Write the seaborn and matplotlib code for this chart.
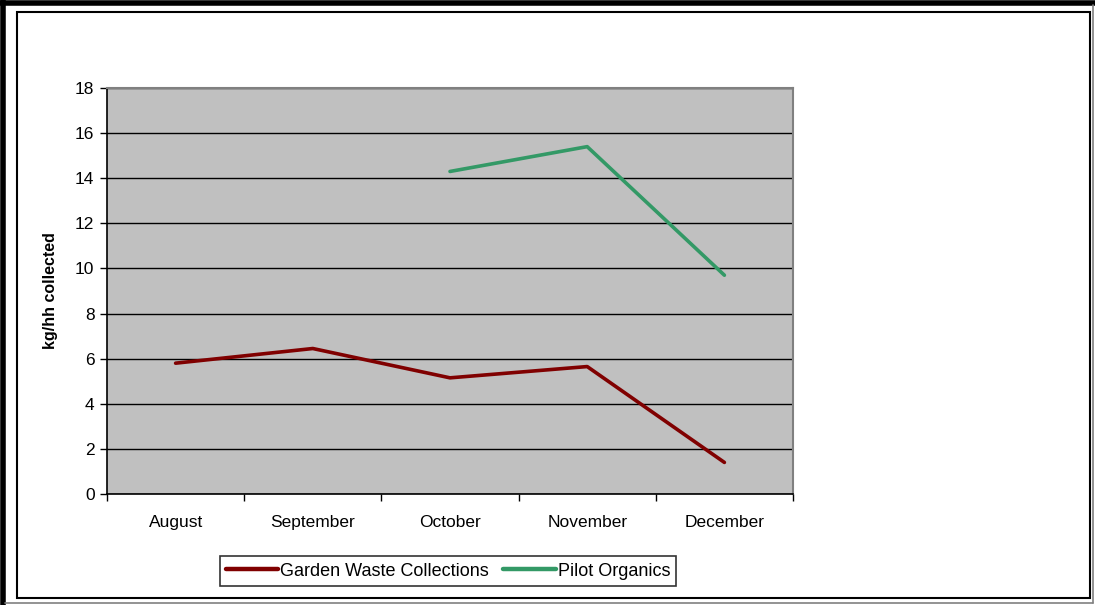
import numpy as np
import pandas as pd
import matplotlib
matplotlib.use("Agg")
import matplotlib.pyplot as plt
import seaborn as sns
from matplotlib.lines import Line2D
from matplotlib.patches import Rectangle

months = ["August", "September", "October", "November", "December"]
garden = [5.8, 6.45, 5.15, 5.65, 1.4]
pilot = [np.nan, np.nan, 14.3, 15.4, 9.7]
series_names = ["Garden Waste Collections", "Pilot Organics"]
colors = ["#800000", "#339966"]

sns.set_theme(style="white")
plt.rcParams['font.family'] = ['Liberation Sans', 'DejaVu Sans']
plt.rcParams['text.color'] = 'black'
plt.rcParams['xtick.color'] = 'black'
plt.rcParams['ytick.color'] = 'black'
plt.rcParams['axes.labelcolor'] = 'black'

df = pd.DataFrame({
    "x": list(range(len(months))) * 2,
    "value": garden + pilot,
    "series": [series_names[0]] * len(months) + [series_names[1]] * len(months),
})

W, H = 1095, 605
fig = plt.figure(figsize=(W / 100, H / 100), dpi=100)
ax = fig.add_axes([107 / W, 1 - 494 / H, (793 - 107) / W, (494 - 88) / H])
ax.set_facecolor("#C0C0C0")

sns.lineplot(data=df, x="x", y="value", hue="series", palette=colors,
             linewidth=2.6, ax=ax, legend=False, sort=False)

ax.set_xlim(-0.5, len(months) - 0.5)
ax.set_ylim(0, 18)
ax.set_yticks(np.arange(0, 19, 2))
ax.yaxis.grid(True, color="black", linewidth=1.0)
ax.set_axisbelow(True)
ax.set_xticks(np.arange(-0.5, len(months), 1.0))
ax.set_xticklabels([])
ax.set_xticks(range(len(months)), minor=True)
ax.set_xticklabels(months, minor=True)
ax.tick_params(axis="x", which="major", direction="out", length=5, width=1, color="black", bottom=True)
ax.tick_params(axis="x", which="minor", length=0, pad=15, labelsize=12.5)
ax.tick_params(axis="y", direction="out", length=5, width=1, color="black", left=True, labelsize=12.5, pad=4)
ax.set_xlabel("")
ax.set_ylabel("kg/hh collected", fontsize=11.5, fontweight="bold", labelpad=12)
for s in ["left", "bottom"]:
    ax.spines[s].set_color("black")
    ax.spines[s].set_linewidth(1.2)
for s in ["top", "right"]:
    ax.spines[s].set_color("#808080")
    ax.spines[s].set_linewidth(1.5)

handles = [Line2D([0], [0], color=c, linewidth=3.2) for c in colors]
leg = fig.legend(handles, series_names, loc="center", bbox_to_anchor=(448 / W, 1 - 571 / H),
                 ncol=2, frameon=True, fancybox=False, fontsize=13, handlelength=2.9,
                 handletextpad=0.1, columnspacing=0.8, borderpad=0.35)
leg.get_frame().set_edgecolor("black")
leg.get_frame().set_linewidth(1.2)

# Frames
def fx(px):
    return px / W
def fy(py):
    return 1 - py / H

fig.add_artist(Rectangle((fx(17), fy(598)), fx(1090) - fx(17), fy(12) - fy(598),
                         transform=fig.transFigure, fill=False, edgecolor="black", linewidth=1.5))
fig.add_artist(Line2D([0, 1], [fy(2.5), fy(2.5)], transform=fig.transFigure, color="black", linewidth=4))
fig.add_artist(Line2D([fx(2.5), fx(2.5)], [0, 1], transform=fig.transFigure, color="black", linewidth=4))
fig.add_artist(Line2D([fx(1093), fx(1093)], [fy(5), fy(603)], transform=fig.transFigure, color="#808080", linewidth=1.2))
fig.add_artist(Line2D([fx(5), fx(1093)], [fy(603), fy(603)], transform=fig.transFigure, color="#808080", linewidth=1.2))

fig.savefig("out.png", dpi=100)
